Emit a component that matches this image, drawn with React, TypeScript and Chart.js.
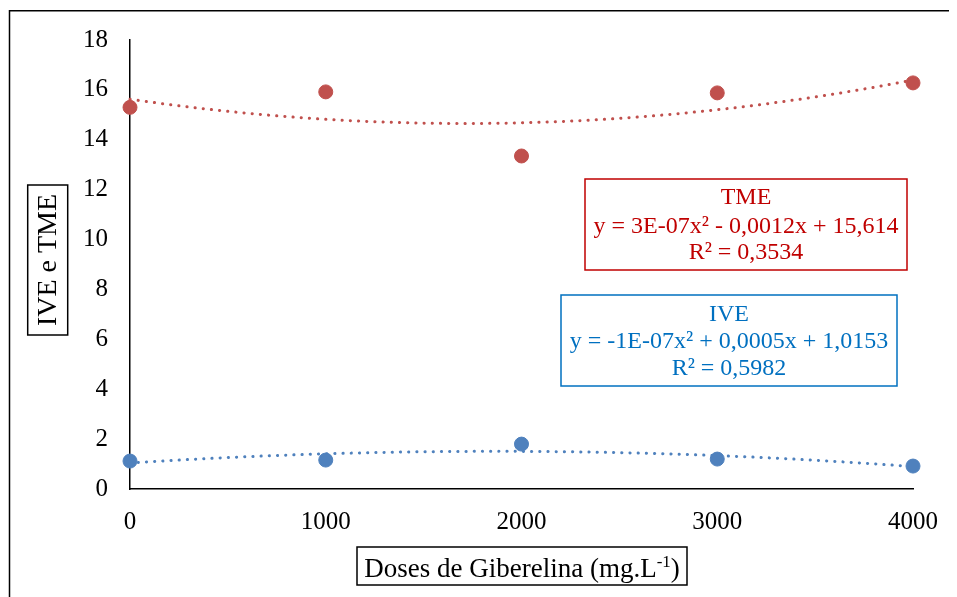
import React, { useEffect, useRef } from "react";
import { Chart, registerables } from "chart.js";

Chart.register(...registerables);

// ---- data ----
const doses = [0, 1000, 2000, 3000, 4000];
const tmeValues = [15.3, 15.92, 13.35, 15.88, 16.28];
const iveValues = [1.12, 1.16, 1.8, 1.2, 0.92];
const xTicks = [0, 1000, 2000, 3000, 4000];
const yTicks = [0, 2, 4, 6, 8, 10, 12, 14, 16, 18];
const tmeLabel = ["TME", "y = 3E-07x² - 0,0012x + 15,614", "R² = 0,3534"];
const iveLabel = ["IVE", "y = -1E-07x² + 0,0005x + 1,0153", "R² = 0,5982"];
const yTitle = "IVE e TME";
const xTitleMain = "Doses de Giberelina (mg.L";
const xTitleSup = "-1";
const xTitleEnd = ")";

const RED = "#C0504D";
const BLUE = "#4F81BD";
const RED_TXT = "#C00000";
const BLUE_TXT = "#0070C0";
const FONT = "'Liberation Serif', 'Times New Roman', serif";

// quadratic least-squares fit (Excel polynomial trendline, order 2)
function quadFit(xs: number[], ys: number[]) {
  const s = (f: (x: number, y: number) => number) =>
    xs.reduce((acc, x, i) => acc + f(x, ys[i]), 0);
  const n = xs.length;
  const sx = s((x) => x), sx2 = s((x) => x * x), sx3 = s((x) => x ** 3), sx4 = s((x) => x ** 4);
  const sy = s((_, y) => y), sxy = s((x, y) => x * y), sx2y = s((x, y) => x * x * y);
  const M = [
    [sx4, sx3, sx2, sx2y],
    [sx3, sx2, sx, sxy],
    [sx2, sx, n, sy],
  ];
  for (let i = 0; i < 3; i++) {
    let p = i;
    for (let r = i + 1; r < 3; r++) if (Math.abs(M[r][i]) > Math.abs(M[p][i])) p = r;
    [M[i], M[p]] = [M[p], M[i]];
    for (let r = 0; r < 3; r++) {
      if (r === i) continue;
      const f = M[r][i] / M[i][i];
      for (let c = i; c < 4; c++) M[r][c] -= f * M[i][c];
    }
  }
  const a = M[0][3] / M[0][0], b = M[1][3] / M[1][1], c = M[2][3] / M[2][2];
  return (x: number) => a * x * x + b * x + c;
}

function trend(ys: number[]) {
  const f = quadFit(doses, ys);
  const pts: { x: number; y: number }[] = [];
  const lo = doses[0], hi = doses[doses.length - 1];
  for (let i = 0; i <= 100; i++) {
    const x = lo + ((hi - lo) * i) / 100;
    pts.push({ x, y: f(x) });
  }
  return pts;
}

function drawBoxText(ctx: CanvasRenderingContext2D, lines: string[], color: string, box: number[], cx: number, ys: number[]) {
  ctx.save();
  ctx.strokeStyle = color;
  ctx.lineWidth = 1.5;
  ctx.strokeRect(box[0], box[1], box[2], box[3]);
  ctx.fillStyle = color;
  ctx.font = `24px ${FONT}`;
  ctx.textAlign = "center";
  ctx.textBaseline = "middle";
  lines.forEach((l, i) => ctx.fillText(l, cx, ys[i]));
  ctx.restore();
}

const decorPlugin = {
  id: "decor",
  afterDraw(chart: any) {
    const ctx: CanvasRenderingContext2D = chart.ctx;
    // outer frame (left and top visible)
    ctx.save();
    ctx.strokeStyle = "#000";
    ctx.lineWidth = 1.5;
    ctx.beginPath();
    ctx.moveTo(1.5, 589);
    ctx.lineTo(1.5, 2.7);
    ctx.lineTo(949, 2.7);
    ctx.stroke();
    ctx.restore();

    drawBoxText(ctx, tmeLabel, RED_TXT, [577, 171, 322, 91], 738, [190, 219, 245]);
    drawBoxText(ctx, iveLabel, BLUE_TXT, [553, 287, 336, 91], 721, [307, 334, 361]);

    // y title
    ctx.save();
    ctx.strokeStyle = "#000";
    ctx.lineWidth = 1.5;
    ctx.strokeRect(19.7, 177, 40, 150);
    ctx.translate(40, 252);
    ctx.rotate(-Math.PI / 2);
    ctx.fillStyle = "#000";
    ctx.font = `28px ${FONT}`;
    ctx.textAlign = "center";
    ctx.textBaseline = "middle";
    ctx.fillText(yTitle, 0, 1);
    ctx.restore();

    // x title
    ctx.save();
    ctx.strokeStyle = "#000";
    ctx.lineWidth = 1.5;
    ctx.strokeRect(349, 539, 330, 38);
    ctx.fillStyle = "#000";
    ctx.textBaseline = "alphabetic";
    ctx.font = `27px ${FONT}`;
    const w1 = ctx.measureText(xTitleMain).width;
    const w3 = ctx.measureText(xTitleEnd).width;
    ctx.font = `17px ${FONT}`;
    const w2 = ctx.measureText(xTitleSup).width;
    const total = w1 + w2 + w3;
    let x = 514 - total / 2;
    const base = 569;
    ctx.font = `27px ${FONT}`;
    ctx.textAlign = "left";
    ctx.fillText(xTitleMain, x, base);
    x += w1;
    ctx.font = `17px ${FONT}`;
    ctx.fillText(xTitleSup, x, base - 10);
    x += w2;
    ctx.font = `27px ${FONT}`;
    ctx.fillText(xTitleEnd, x, base);
    ctx.restore();
  },
};

export default function App() {
  const ref = useRef<HTMLCanvasElement>(null);
  useEffect(() => {
    if (!ref.current) return;
    const dotted = {
      showLine: true,
      pointRadius: 0,
      pointHoverRadius: 0,
      borderWidth: 3,
      borderDash: [0.2, 8],
      borderCapStyle: "round" as const,
      fill: false,
      clip: false as const,
      order: 2,
    };
    const chart = new Chart(ref.current, {
      type: "scatter",
      data: {
        datasets: [
          { label: "TME", data: doses.map((x, i) => ({ x, y: tmeValues[i] })), backgroundColor: RED, borderColor: RED, pointRadius: 7, clip: false, order: 0 },
          { label: "IVE", data: doses.map((x, i) => ({ x, y: iveValues[i] })), backgroundColor: BLUE, borderColor: BLUE, pointRadius: 7, clip: false, order: 0 },
          { label: "TME trend", data: trend(tmeValues), borderColor: RED, ...dotted },
          { label: "IVE trend", data: trend(iveValues), borderColor: BLUE, ...dotted },
        ],
      },
      options: {
        responsive: false,
        animation: false,
        devicePixelRatio: 1,
        layout: { padding: { top: 32, right: 44, left: 0, bottom: 0 } },
        plugins: { legend: { display: false }, tooltip: { enabled: false } },
        scales: {
          x: {
            type: "linear",
            min: 0,
            max: 4000,
            afterBuildTicks: (s: any) => { s.ticks = xTicks.map((v) => ({ value: v })); },
            afterFit: (s: any) => { s.height = 108; s.paddingLeft = 0; s.paddingRight = 0; },
            grid: { display: false, drawTicks: false },
            border: { display: true, color: "#000", width: 1.5 },
            ticks: { color: "#000", font: { family: FONT, size: 25 }, padding: 18, maxRotation: 0, callback: (v: any) => String(v) },
          },
          y: {
            type: "linear",
            min: 0,
            max: 18,
            afterBuildTicks: (s: any) => { s.ticks = yTicks.map((v) => ({ value: v })); },
            afterFit: (s: any) => { s.width = 122; s.paddingTop = 0; s.paddingBottom = 0; },
            grid: { display: false, drawTicks: false },
            border: { display: true, color: "#000", width: 1.5 },
            ticks: { color: "#000", font: { family: FONT, size: 25 }, padding: 22, callback: (v: any) => String(v) },
          },
        },
      },
      plugins: [decorPlugin],
    });
    return () => chart.destroy();
  }, []);
  return (
    <div style={{ width: 949, height: 589 }}>
      <canvas ref={ref} width={949} height={589} style={{ display: "block" }} />
    </div>
  );
}
